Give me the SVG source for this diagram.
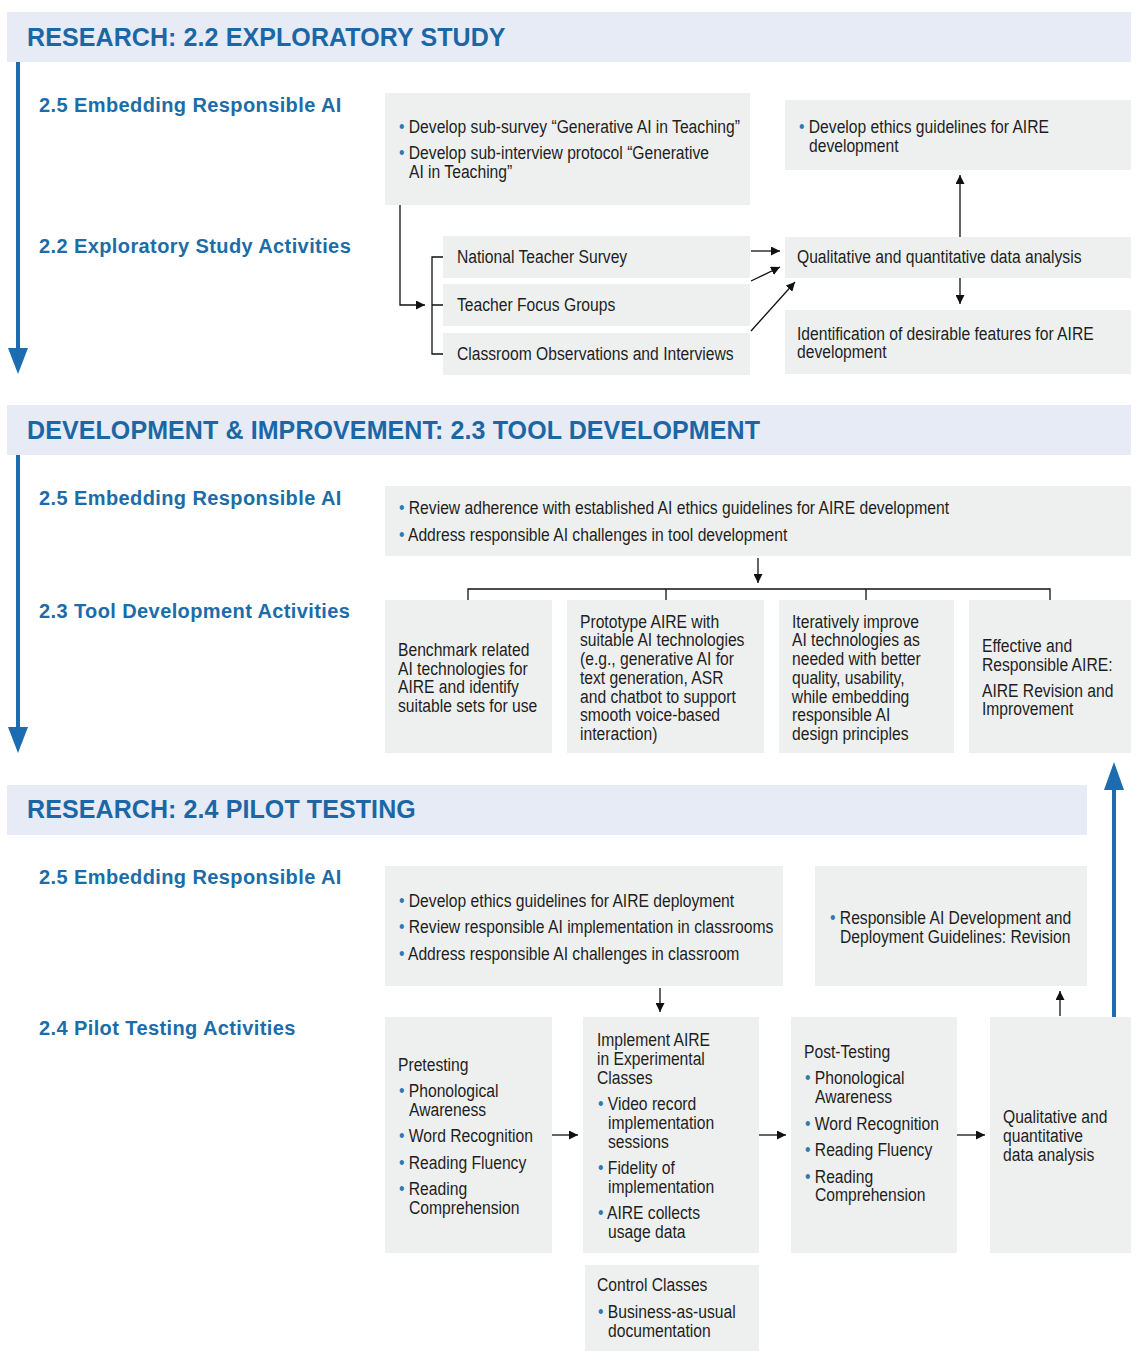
<svg xmlns="http://www.w3.org/2000/svg" width="1145" height="1363" viewBox="0 0 1145 1363">
  <style>
    .bar { fill: #e7ebf6; }
    .box { fill: #eef0f0; }
    .hd { font-family: "Liberation Sans", Arial, sans-serif; font-weight: bold; font-size: 25px; letter-spacing: 0.1px; fill: #1b67a6; }
    .sub { font-family: "Liberation Sans", Arial, sans-serif; font-weight: bold; font-size: 20px; letter-spacing: 0.4px; fill: #1b6ca8; }
    .t { font-family: "Liberation Sans", Arial, sans-serif; font-size: 18px; fill: #1e1e1e;
         transform-box: fill-box; transform-origin: 0 0; transform: scaleX(0.87); }
    .b { fill: #2f78b0; }
    .ln { stroke: #111; stroke-width: 1.3; fill: none; }
    .blue { stroke: #1b6cb0; stroke-width: 4; fill: none; }
  </style>
  <defs>
    <marker id="ah" viewBox="0 0 10 10" refX="10" refY="5" markerWidth="9" markerHeight="9" markerUnits="userSpaceOnUse" orient="auto">
      <path d="M0,0 L10,5 L0,10 z" fill="#111"/>
    </marker>
  </defs>
  <rect width="1145" height="1363" fill="#fff"/>

  <!-- Section bars -->
  <g id="sec-research-22">
    <rect class="bar" x="7" y="12" width="1124" height="50"/>
    <text class="hd" x="27" y="46">RESEARCH: 2.2 EXPLORATORY STUDY</text>
  </g>
  <g id="sec-dev-23">
    <rect class="bar" x="7" y="405" width="1124" height="50"/>
    <text class="hd" x="27" y="439">DEVELOPMENT &amp; IMPROVEMENT: 2.3 TOOL DEVELOPMENT</text>
  </g>
  <g id="sec-research-24">
    <rect class="bar" x="7" y="785" width="1080" height="50"/>
    <text class="hd" x="27" y="818">RESEARCH: 2.4 PILOT TESTING</text>
  </g>

  <!-- Row labels -->
  <g id="labels">
    <text class="sub" x="39" y="112">2.5 Embedding Responsible AI</text>
    <text class="sub" x="39" y="253">2.2 Exploratory Study Activities</text>
    <text class="sub" x="39" y="505">2.5 Embedding Responsible AI</text>
    <text class="sub" x="39" y="618">2.3 Tool Development Activities</text>
    <text class="sub" x="39" y="884">2.5 Embedding Responsible AI</text>
    <text class="sub" x="39" y="1035">2.4 Pilot Testing Activities</text>
  </g>

  <!-- 2.2 nodes -->
  <g id="n-subsurvey">
    <rect class="box" x="385" y="93" width="365" height="112"/>
    <text class="t" x="399" y="133"><tspan class="b">•</tspan> Develop sub-survey “Generative AI in Teaching”</text>
    <text class="t" x="399" y="159"><tspan class="b">•</tspan> Develop sub-interview protocol “Generative</text>
    <text class="t" x="409" y="178">AI in Teaching”</text>
  </g>
  <g id="n-ethics-dev">
    <rect class="box" x="785" y="100" width="346" height="70"/>
    <text class="t" x="799" y="133"><tspan class="b">•</tspan> Develop ethics guidelines for AIRE</text>
    <text class="t" x="809" y="152">development</text>
  </g>
  <g id="n-survey">
    <rect class="box" x="443" y="236" width="307" height="42"/>
    <text class="t" x="457" y="263">National Teacher Survey</text>
  </g>
  <g id="n-focus">
    <rect class="box" x="443" y="284" width="307" height="42"/>
    <text class="t" x="457" y="311">Teacher Focus Groups</text>
  </g>
  <g id="n-observe">
    <rect class="box" x="443" y="333" width="307" height="42"/>
    <text class="t" x="457" y="360">Classroom Observations and Interviews</text>
  </g>
  <g id="n-analysis1">
    <rect class="box" x="785" y="237" width="346" height="41"/>
    <text class="t" x="797" y="263">Qualitative and quantitative data analysis</text>
  </g>
  <g id="n-features">
    <rect class="box" x="785" y="310" width="346" height="64"/>
    <text class="t" x="797" y="340">Identification of desirable features for AIRE</text>
    <text class="t" x="797" y="358">development</text>
  </g>

  <!-- 2.3 nodes -->
  <g id="n-review">
    <rect class="box" x="385" y="486" width="746" height="70"/>
    <text class="t" x="399" y="514"><tspan class="b">•</tspan> Review adherence with established AI ethics guidelines for AIRE development</text>
    <text class="t" x="399" y="541"><tspan class="b">•</tspan> Address responsible AI challenges in tool development</text>
  </g>
  <g id="n-benchmark">
    <rect class="box" x="385" y="600" width="167" height="153"/>
    <text class="t" x="398" y="656">Benchmark related</text>
    <text class="t" x="398" y="675">AI technologies for</text>
    <text class="t" x="398" y="693">AIRE and identify</text>
    <text class="t" x="398" y="712">suitable sets for use</text>
  </g>
  <g id="n-prototype">
    <rect class="box" x="567" y="600" width="197" height="153"/>
    <text class="t" x="580" y="628">Prototype AIRE with</text>
    <text class="t" x="580" y="646">suitable AI technologies</text>
    <text class="t" x="580" y="665">(e.g., generative AI for</text>
    <text class="t" x="580" y="684">text generation, ASR</text>
    <text class="t" x="580" y="703">and chatbot to support</text>
    <text class="t" x="580" y="721">smooth voice-based</text>
    <text class="t" x="580" y="740">interaction)</text>
  </g>
  <g id="n-iterate">
    <rect class="box" x="779" y="600" width="175" height="153"/>
    <text class="t" x="792" y="628">Iteratively improve</text>
    <text class="t" x="792" y="646">AI technologies as</text>
    <text class="t" x="792" y="665">needed with better</text>
    <text class="t" x="792" y="684">quality, usability,</text>
    <text class="t" x="792" y="703">while embedding</text>
    <text class="t" x="792" y="721">responsible AI</text>
    <text class="t" x="792" y="740">design principles</text>
  </g>
  <g id="n-effective">
    <rect class="box" x="969" y="600" width="162" height="153"/>
    <text class="t" x="982" y="652">Effective and</text>
    <text class="t" x="982" y="671">Responsible AIRE:</text>
    <text class="t" x="982" y="697">AIRE Revision and</text>
    <text class="t" x="982" y="715">Improvement</text>
  </g>

  <!-- 2.4 nodes -->
  <g id="n-deploy">
    <rect class="box" x="385" y="866" width="398" height="120"/>
    <text class="t" x="399" y="907"><tspan class="b">•</tspan> Develop ethics guidelines for AIRE deployment</text>
    <text class="t" x="399" y="933"><tspan class="b">•</tspan> Review responsible AI implementation in classrooms</text>
    <text class="t" x="399" y="960"><tspan class="b">•</tspan> Address responsible AI challenges in classroom</text>
  </g>
  <g id="n-guidelines">
    <rect class="box" x="815" y="866" width="272" height="120"/>
    <text class="t" x="830" y="924"><tspan class="b">•</tspan> Responsible AI Development and</text>
    <text class="t" x="840" y="943">Deployment Guidelines: Revision</text>
  </g>
  <g id="n-pretest">
    <rect class="box" x="385" y="1017" width="167" height="236"/>
    <text class="t" x="398" y="1071">Pretesting</text>
    <text class="t" x="399" y="1097"><tspan class="b">•</tspan> Phonological</text>
    <text class="t" x="409" y="1116">Awareness</text>
    <text class="t" x="399" y="1142"><tspan class="b">•</tspan> Word Recognition</text>
    <text class="t" x="399" y="1169"><tspan class="b">•</tspan> Reading Fluency</text>
    <text class="t" x="399" y="1195"><tspan class="b">•</tspan> Reading</text>
    <text class="t" x="409" y="1214">Comprehension</text>
  </g>
  <g id="n-implement">
    <rect class="box" x="583" y="1017" width="176" height="236"/>
    <text class="t" x="597" y="1046">Implement AIRE</text>
    <text class="t" x="597" y="1065">in Experimental</text>
    <text class="t" x="597" y="1084">Classes</text>
    <text class="t" x="598" y="1110"><tspan class="b">•</tspan> Video record</text>
    <text class="t" x="608" y="1129">implementation</text>
    <text class="t" x="608" y="1148">sessions</text>
    <text class="t" x="598" y="1174"><tspan class="b">•</tspan> Fidelity of</text>
    <text class="t" x="608" y="1193">implementation</text>
    <text class="t" x="598" y="1219"><tspan class="b">•</tspan> AIRE collects</text>
    <text class="t" x="608" y="1238">usage data</text>
  </g>
  <g id="n-posttest">
    <rect class="box" x="791" y="1017" width="166" height="236"/>
    <text class="t" x="804" y="1058">Post-Testing</text>
    <text class="t" x="805" y="1084"><tspan class="b">•</tspan> Phonological</text>
    <text class="t" x="815" y="1103">Awareness</text>
    <text class="t" x="805" y="1130"><tspan class="b">•</tspan> Word Recognition</text>
    <text class="t" x="805" y="1156"><tspan class="b">•</tspan> Reading Fluency</text>
    <text class="t" x="805" y="1183"><tspan class="b">•</tspan> Reading</text>
    <text class="t" x="815" y="1201">Comprehension</text>
  </g>
  <g id="n-analysis2">
    <rect class="box" x="990" y="1017" width="141" height="236"/>
    <text class="t" x="1003" y="1123">Qualitative and</text>
    <text class="t" x="1003" y="1142">quantitative</text>
    <text class="t" x="1003" y="1161">data analysis</text>
  </g>
  <g id="n-control">
    <rect class="box" x="585" y="1265" width="174" height="86"/>
    <text class="t" x="597" y="1291">Control Classes</text>
    <text class="t" x="598" y="1318"><tspan class="b">•</tspan> Business-as-usual</text>
    <text class="t" x="608" y="1337">documentation</text>
  </g>

  <!-- Connectors -->
  <g id="connectors">
    <!-- timeline arrows -->
    <path class="blue" d="M18,62 V352"/>
    <path d="M8,348 L28,348 L18,374 z" fill="#1b6cb0"/>
    <path class="blue" d="M18,455 V730"/>
    <path d="M8,727 L28,727 L18,753 z" fill="#1b6cb0"/>
    <path class="blue" d="M1114,1017 V786"/>
    <path d="M1104,790 L1124,790 L1114,762 z" fill="#1b6cb0"/>

    <!-- 2.2 -->
    <path class="ln" d="M400,205 V305 H425" marker-end="url(#ah)"/>
    <path class="ln" d="M443,257 H432 V354 H443 M432,305 H443"/>
    <path class="ln" d="M751,251 H780" marker-end="url(#ah)"/>
    <path class="ln" d="M751,281 L780,267" marker-end="url(#ah)"/>
    <path class="ln" d="M751,331 L795,282" marker-end="url(#ah)"/>
    <path class="ln" d="M960,237 V175" marker-end="url(#ah)"/>
    <path class="ln" d="M960,278 V304" marker-end="url(#ah)"/>

    <!-- 2.3 -->
    <path class="ln" d="M758,558 V583" marker-end="url(#ah)"/>
    <path class="ln" d="M468,600 V589 H1050 V600 M666,589 V600 M866,589 V600"/>

    <!-- 2.4 -->
    <path class="ln" d="M660,988 V1012" marker-end="url(#ah)"/>
    <path class="ln" d="M1060,1016 V991" marker-end="url(#ah)"/>
    <path class="ln" d="M552,1135 H578" marker-end="url(#ah)"/>
    <path class="ln" d="M759,1135 H786" marker-end="url(#ah)"/>
    <path class="ln" d="M957,1135 H985" marker-end="url(#ah)"/>
  </g>
</svg>
